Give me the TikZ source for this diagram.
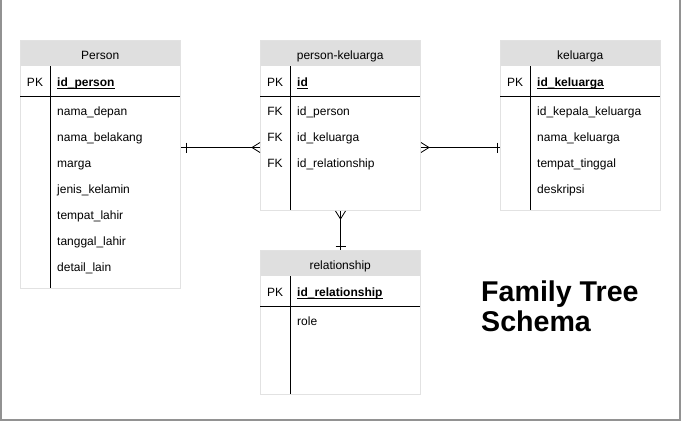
\documentclass[tikz,border=0pt]{standalone}
\usepackage{fontspec}
\setmainfont{Liberation Sans}
\definecolor{hdrgray}{HTML}{DFDFDF}
\definecolor{tblline}{HTML}{E2E2E2}
\definecolor{framegray}{HTML}{929292}
\newcommand{\pkey}[1]{\setbox0\hbox{\bfseries #1}\rlap{\rule[-2pt]{\wd0}{0.9pt}}\box0}
\begin{document}
\begin{tikzpicture}[x=1pt, y=-1pt,
  every node/.style = {inner sep=0, font=\fontsize{12}{14}\selectfont},
  tbl/.style = {draw=tblline, line width=1pt, anchor=north west, minimum width=160},
  hdr/.style = {fill=hdrgray, anchor=north west, minimum width=160,
    minimum height=26, text height=13, text depth=0},
  field/.style = {anchor=base west},
  key/.style = {anchor=base},
  sep/.style = {line width=1pt, black},
  link/.style = {line width=0.8pt, black},
  onebar/.pic = {\draw[link] (0,-5) -- (0,5);},
  crowfoot/.pic = {\draw[link] (0,-5) -- (-8,0) -- (0,5);}]
  \useasboundingbox (0,0) rectangle (682,421);
  \draw[framegray, line width=1.5pt] (0.75,0) -- (0.75,419.75) -- (679.75,419.75) -- (679.75,0);

  % Person
  \begin{scope}[shift={(20,40)}]
    \node[hdr] (person-h) at (0,0) {Person};
    \node[tbl, minimum height=248] (person) at (0,0) {};
    \draw[sep] (0,56) -- (160,56);
    \draw[sep] (30,26) -- (30,248);
    \node[key] (person-pk) at (15,46.5) {PK};
    \node[field] (person-id) at (37,46.5) {\pkey{id\_person}};
    \foreach \f [count=\i] in {nama\_depan, nama\_belakang, marga, jenis\_kelamin,
        tempat\_lahir, tanggal\_lahir, detail\_lain}
      \node[field] (person-f\i) at (37,49.5+26*\i) {\f};
  \end{scope}

  % person-keluarga
  \begin{scope}[shift={(260,40)}]
    \node[hdr] (pkel-h) at (0,0) {person-keluarga};
    \node[tbl, minimum height=170] (pkel) at (0,0) {};
    \draw[sep] (0,56) -- (160,56);
    \draw[sep] (30,26) -- (30,170);
    \node[key] (pkel-pk) at (15,46.5) {PK};
    \node[field] (pkel-id) at (37,46.5) {\pkey{id}};
    \foreach \f [count=\i] in {id\_person, id\_keluarga, id\_relationship} {
      \node[key] (pkel-k\i) at (15,49.5+26*\i) {FK};
      \node[field] (pkel-f\i) at (37,49.5+26*\i) {\f};
    }
  \end{scope}

  % keluarga
  \begin{scope}[shift={(500,40)}]
    \node[hdr] (kel-h) at (0,0) {keluarga};
    \node[tbl, minimum height=170] (kel) at (0,0) {};
    \draw[sep] (0,56) -- (160,56);
    \draw[sep] (30,26) -- (30,170);
    \node[key] (kel-pk) at (15,46.5) {PK};
    \node[field] (kel-id) at (37,46.5) {\pkey{id\_keluarga}};
    \foreach \f [count=\i] in {id\_kepala\_keluarga, nama\_keluarga, tempat\_tinggal, deskripsi}
      \node[field] (kel-f\i) at (37,49.5+26*\i) {\f};
  \end{scope}

  % relationship
  \begin{scope}[shift={(260,250)}]
    \node[hdr] (rel-h) at (0,0) {relationship};
    \node[tbl, minimum height=144] (rel) at (0,0) {};
    \draw[sep] (0,56) -- (160,56);
    \draw[sep] (30,26) -- (30,144);
    \node[key] (rel-pk) at (15,46.5) {PK};
    \node[field] (rel-id) at (37,46.5) {\pkey{id\_relationship}};
    \node[field] (rel-f1) at (37,75.5) {role};
  \end{scope}

  % links
  \draw[link] ([yshift=-107.5pt]person.north east) -- ([yshift=-107.5pt]pkel.north west);
  \pic at ([xshift=5pt,yshift=-107.5pt]person.north east) {onebar};
  \pic at ([yshift=-107.5pt]pkel.north west) {crowfoot};
  \draw[link] ([yshift=-107.5pt]pkel.north east) -- ([yshift=-107.5pt]kel.north west);
  \pic[rotate=180] at ([yshift=-107.5pt]pkel.north east) {crowfoot};
  \pic at ([xshift=-3pt,yshift=-107.5pt]kel.north west) {onebar};
  \draw[link] (pkel.south) -- (rel.north);
  \pic[rotate=90] at (pkel.south) {crowfoot};
  \pic[rotate=90] at ([yshift=3.5pt]rel.north) {onebar};

  \node[anchor=north west, align=left, font=\bfseries\fontsize{28.6}{30}\selectfont]
    (title) at (481,280.5) {Family Tree\\Schema};
\end{tikzpicture}
\end{document}
